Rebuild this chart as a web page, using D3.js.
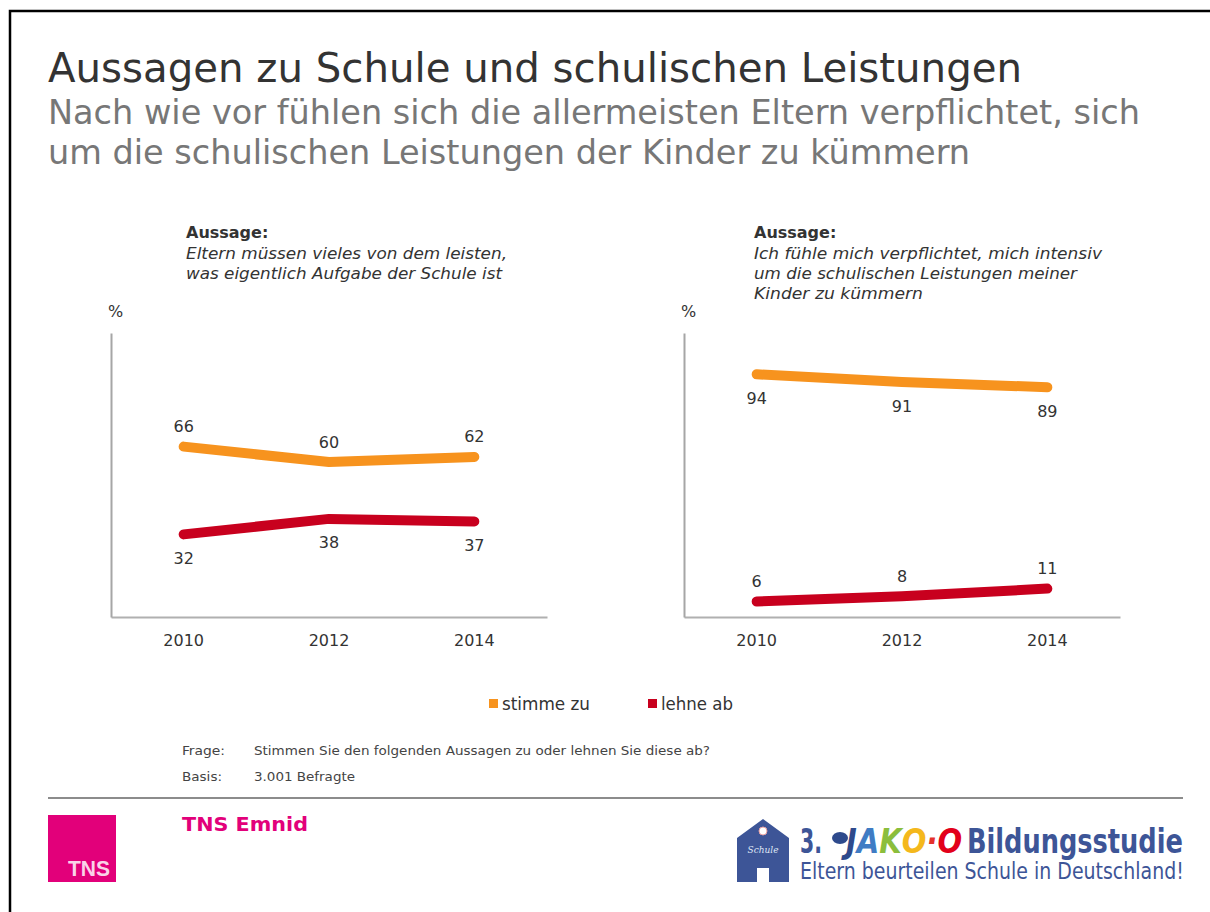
<!DOCTYPE html>
<html>
<head>
<meta charset="utf-8">
<script src="https://cdn.jsdelivr.net/npm/d3@7"></script>
<style>
  html, body { margin: 0; padding: 0; background: #fff; }
  svg { display: block; }
</style>
</head>
<body>
<svg id="chart"></svg>
<script>
// Data
var years = ["2010", "2012", "2014"];
var seriesNames = ["stimme zu", "lehne ab"];
var seriesColors = ["#F7931E", "#C8001E"];

var stimmeZuLinks = [66, 60, 62];
var lehneAbLinks = [32, 38, 37];
var stimmeZuRechts = [94, 91, 89];
var lehneAbRechts = [6, 8, 11];

var aussageLinks = ["Eltern müssen vieles von dem leisten,", "was eigentlich Aufgabe der Schule ist"];
var aussageRechts = ["Ich fühle mich verpflichtet, mich intensiv", "um die schulischen Leistungen meiner", "Kinder zu kümmern"];

var titleText = "Aussagen zu Schule und schulischen Leistungen";
var subtitleLines = ["Nach wie vor fühlen sich die allermeisten Eltern verpflichtet, sich", "um die schulischen Leistungen der Kinder zu kümmern"];

var width = 1210, height = 912;
var sansFont = "'DejaVu Sans', Verdana, sans-serif";
var narrowFont = "'DejaVu Sans Condensed', 'Liberation Sans Narrow', 'DejaVu Sans', sans-serif";

var svg = d3.select("#chart")
    .attr("width", width)
    .attr("height", height);

drawFrame(svg);
drawHeader(svg);

drawPanel(svg, {
    left: 111, right: 547, textX: 186,
    zu: stimmeZuLinks, ab: lehneAbLinks,
    zuAbove: true, aussage: aussageLinks, lineWidths: [321, 316]
});
drawPanel(svg, {
    left: 684, right: 1120, textX: 754,
    zu: stimmeZuRechts, ab: lehneAbRechts,
    zuAbove: false, aussage: aussageRechts, lineWidths: [348, 323, 169]
});

drawLegend(svg);
drawFooter(svg);

function drawFrame(svg){
    svg.append("path")
        .attr("d", "M10," + height + "V11H" + width)
        .attr("fill", "none")
        .attr("stroke", "#000")
        .attr("stroke-width", 2.5);
}

function drawHeader(svg){
    svg.append("text")
        .attr("x", 48).attr("y", 82)
        .attr("font-family", narrowFont)
        .attr("font-size", 41)
        .attr("fill", "#333")
        .attr("textLength", 974)
        .attr("lengthAdjust", "spacingAndGlyphs")
        .text(titleText);

    var subLengths = [1092, 922];
    subtitleLines.forEach(function(line, i){
        svg.append("text")
            .attr("x", 48).attr("y", 124 + i * 40)
            .attr("font-family", narrowFont)
            .attr("font-size", 33)
            .attr("fill", "#777")
            .attr("textLength", subLengths[i])
            .attr("lengthAdjust", "spacingAndGlyphs")
            .text(line);
    });
}

function drawPanel(svg, cfg){
    var xScale = d3.scaleBand()
        .domain(years)
        .range([cfg.left, cfg.right]);
    var yScale = d3.scaleLinear()
        .domain([0, 110])
        .range([617, 333]);
    var cx = function(d, i){ return xScale(years[i]) + xScale.bandwidth() / 2; };

    // axes
    var xAxis = svg.append("g")
        .attr("transform", "translate(0," + yScale(0) + ")")
        .call(d3.axisBottom(xScale).tickSize(0).tickPadding(17.5));
    xAxis.select(".domain").attr("stroke", "#B0B0B0").attr("stroke-width", 2);
    xAxis.selectAll("text")
        .attr("font-family", sansFont)
        .attr("font-size", 16)
        .attr("fill", "#333");

    var yAxis = svg.append("g")
        .attr("transform", "translate(" + cfg.left + ",0)")
        .call(d3.axisLeft(yScale).ticks(0).tickSize(0));
    yAxis.select(".domain").attr("stroke", "#A6A6A6").attr("stroke-width", 2);

    svg.append("text")
        .attr("x", cfg.left - 3).attr("y", 317)
        .attr("font-family", sansFont)
        .attr("font-size", 16)
        .attr("fill", "#333")
        .text("%");

    // statement heading
    svg.append("text")
        .attr("x", cfg.textX).attr("y", 238)
        .attr("font-family", sansFont)
        .attr("font-size", 16)
        .attr("font-weight", "bold")
        .attr("fill", "#333")
        .text("Aussage:");
    cfg.aussage.forEach(function(line, i){
        svg.append("text")
            .attr("x", cfg.textX).attr("y", 259 + i * 20)
            .attr("font-family", sansFont)
            .attr("font-size", 16.5)
            .attr("font-style", "italic")
            .attr("fill", "#333")
            .attr("textLength", cfg.lineWidths[i])
            .attr("lengthAdjust", "spacingAndGlyphs")
            .text(line);
    });

    // lines
    var line = d3.line()
        .x(cx)
        .y(function(d){ return yScale(d); });
    var series = [cfg.zu, cfg.ab];
    series.forEach(function(values, s){
        svg.append("path")
            .datum(values)
            .attr("d", line)
            .attr("fill", "none")
            .attr("stroke", seriesColors[s])
            .attr("stroke-width", 10)
            .attr("stroke-linecap", "round")
            .attr("stroke-linejoin", "round");

        var above = (s === 0) ? cfg.zuAbove : !cfg.zuAbove;
        svg.append("g").selectAll("text")
            .data(values)
            .enter()
            .append("text")
            .attr("x", cx)
            .attr("y", function(d){ return yScale(d) + (above ? -14.5 : 29.5); })
            .attr("text-anchor", "middle")
            .attr("font-family", sansFont)
            .attr("font-size", 16)
            .attr("fill", "#333")
            .text(function(d){ return d; });
    });
}

function drawLegend(svg){
    var items = [
        {x: 489, textLength: 88},
        {x: 648, textLength: 72}
    ];
    seriesNames.forEach(function(name, i){
        svg.append("rect")
            .attr("x", items[i].x).attr("y", 699)
            .attr("width", 9).attr("height", 9)
            .attr("fill", seriesColors[i]);
        svg.append("text")
            .attr("x", items[i].x + 13).attr("y", 710)
            .attr("font-family", narrowFont)
            .attr("font-size", 18)
            .attr("fill", "#333")
            .attr("textLength", items[i].textLength)
            .attr("lengthAdjust", "spacingAndGlyphs")
            .text(name);
    });
}

function drawFooter(svg){
    var notes = [
        {label: "Frage:", labelLen: 43, text: "Stimmen Sie den folgenden Aussagen zu oder lehnen Sie diese ab?", textLen: 456, y: 755},
        {label: "Basis:", labelLen: 40, text: "3.001 Befragte", textLen: 101, y: 781}
    ];
    notes.forEach(function(n){
        svg.append("text")
            .attr("x", 182).attr("y", n.y)
            .attr("font-family", narrowFont).attr("font-size", 13).attr("fill", "#444")
            .attr("textLength", n.labelLen).attr("lengthAdjust", "spacingAndGlyphs")
            .text(n.label);
        svg.append("text")
            .attr("x", 254).attr("y", n.y)
            .attr("font-family", narrowFont).attr("font-size", 13).attr("fill", "#444")
            .attr("textLength", n.textLen).attr("lengthAdjust", "spacingAndGlyphs")
            .text(n.text);
    });

    svg.append("line")
        .attr("x1", 48).attr("x2", 1183)
        .attr("y1", 798).attr("y2", 798)
        .attr("stroke", "#666")
        .attr("stroke-width", 1.5);

    // TNS logo
    svg.append("rect")
        .attr("x", 48).attr("y", 815)
        .attr("width", 68).attr("height", 67)
        .attr("fill", "#E2007A");
    svg.append("text")
        .attr("x", 110).attr("y", 876)
        .attr("text-anchor", "end")
        .attr("font-family", "'Liberation Sans', Arial, sans-serif")
        .attr("font-size", 22)
        .attr("font-weight", "bold")
        .attr("fill", "#F9D3E8")
        .attr("textLength", 42)
        .attr("lengthAdjust", "spacingAndGlyphs")
        .text("TNS");
    svg.append("text")
        .attr("x", 182).attr("y", 831)
        .attr("font-family", sansFont)
        .attr("font-size", 20)
        .attr("font-weight", "bold")
        .attr("fill", "#E2007A")
        .attr("textLength", 126)
        .attr("lengthAdjust", "spacingAndGlyphs")
        .text("TNS Emnid");

    drawJakoLogo(svg);
}

// squeeze a text horizontally so it spans the given width
function fitWidth(text, x, y, targetWidth){
    var natural = text.node().getComputedTextLength();
    var k = targetWidth / natural;
    text.attr("transform", "translate(" + x + "," + y + ") scale(" + k + ",1) translate(" + (-x) + "," + (-y) + ")");
    return text;
}

function drawJakoLogo(svg){
    var blue = "#3D5597";
    var g = svg.append("g");
    // house
    g.append("path")
        .attr("d", "M737,838 L763,819 L789,838 L789,882 L769,882 L769,868 L757,868 L757,882 L737,882 Z")
        .attr("fill", blue);
    g.append("circle")
        .attr("cx", 763).attr("cy", 831).attr("r", 4)
        .attr("fill", "#fff").attr("stroke", "#e9a0a0").attr("stroke-width", 1);
    g.append("text")
        .attr("x", 763).attr("y", 853)
        .attr("text-anchor", "middle")
        .attr("font-family", "'DejaVu Serif', serif")
        .attr("font-style", "italic")
        .attr("font-size", 9)
        .attr("fill", "#dfe6f5")
        .text("Schule");

    var boldFont = "'DejaVu Sans Condensed', 'DejaVu Sans', sans-serif";
    var three = g.append("text")
        .attr("x", 800).attr("y", 853)
        .attr("font-family", boldFont).attr("font-size", 34).attr("font-weight", "bold")
        .attr("fill", blue)
        .text("3.");
    fitWidth(three, 800, 853, 22);

    // small mascot blob
    g.append("ellipse")
        .attr("cx", 840).attr("cy", 838).attr("rx", 8).attr("ry", 6)
        .attr("fill", "#2E4A8C");

    var jako = [
        {ch: "J", c: "#2E4A8C"},
        {ch: "A", c: "#3F7CC4"},
        {ch: "K", c: "#8BBE3C"},
        {ch: "O", c: "#F4B81C"},
        {ch: "·", c: "#E4312B"},
        {ch: "O", c: "#E2001A"}
    ];
    var jt = g.append("text")
        .attr("x", 846).attr("y", 853)
        .attr("font-family", boldFont).attr("font-size", 34).attr("font-weight", "bold")
        .attr("font-style", "italic");
    jako.forEach(function(d){
        jt.append("tspan").attr("fill", d.c).text(d.ch);
    });
    fitWidth(jt, 846, 853, 114);

    var bild = g.append("text")
        .attr("x", 967).attr("y", 853)
        .attr("font-family", boldFont).attr("font-size", 34).attr("font-weight", "bold")
        .attr("fill", blue)
        .text("Bildungsstudie");
    fitWidth(bild, 967, 853, 216);

    var sub = g.append("text")
        .attr("x", 800).attr("y", 879)
        .attr("font-family", boldFont).attr("font-size", 23)
        .attr("fill", blue)
        .text("Eltern beurteilen Schule in Deutschland!");
    fitWidth(sub, 800, 879, 384);
}
</script>
</body>
</html>
